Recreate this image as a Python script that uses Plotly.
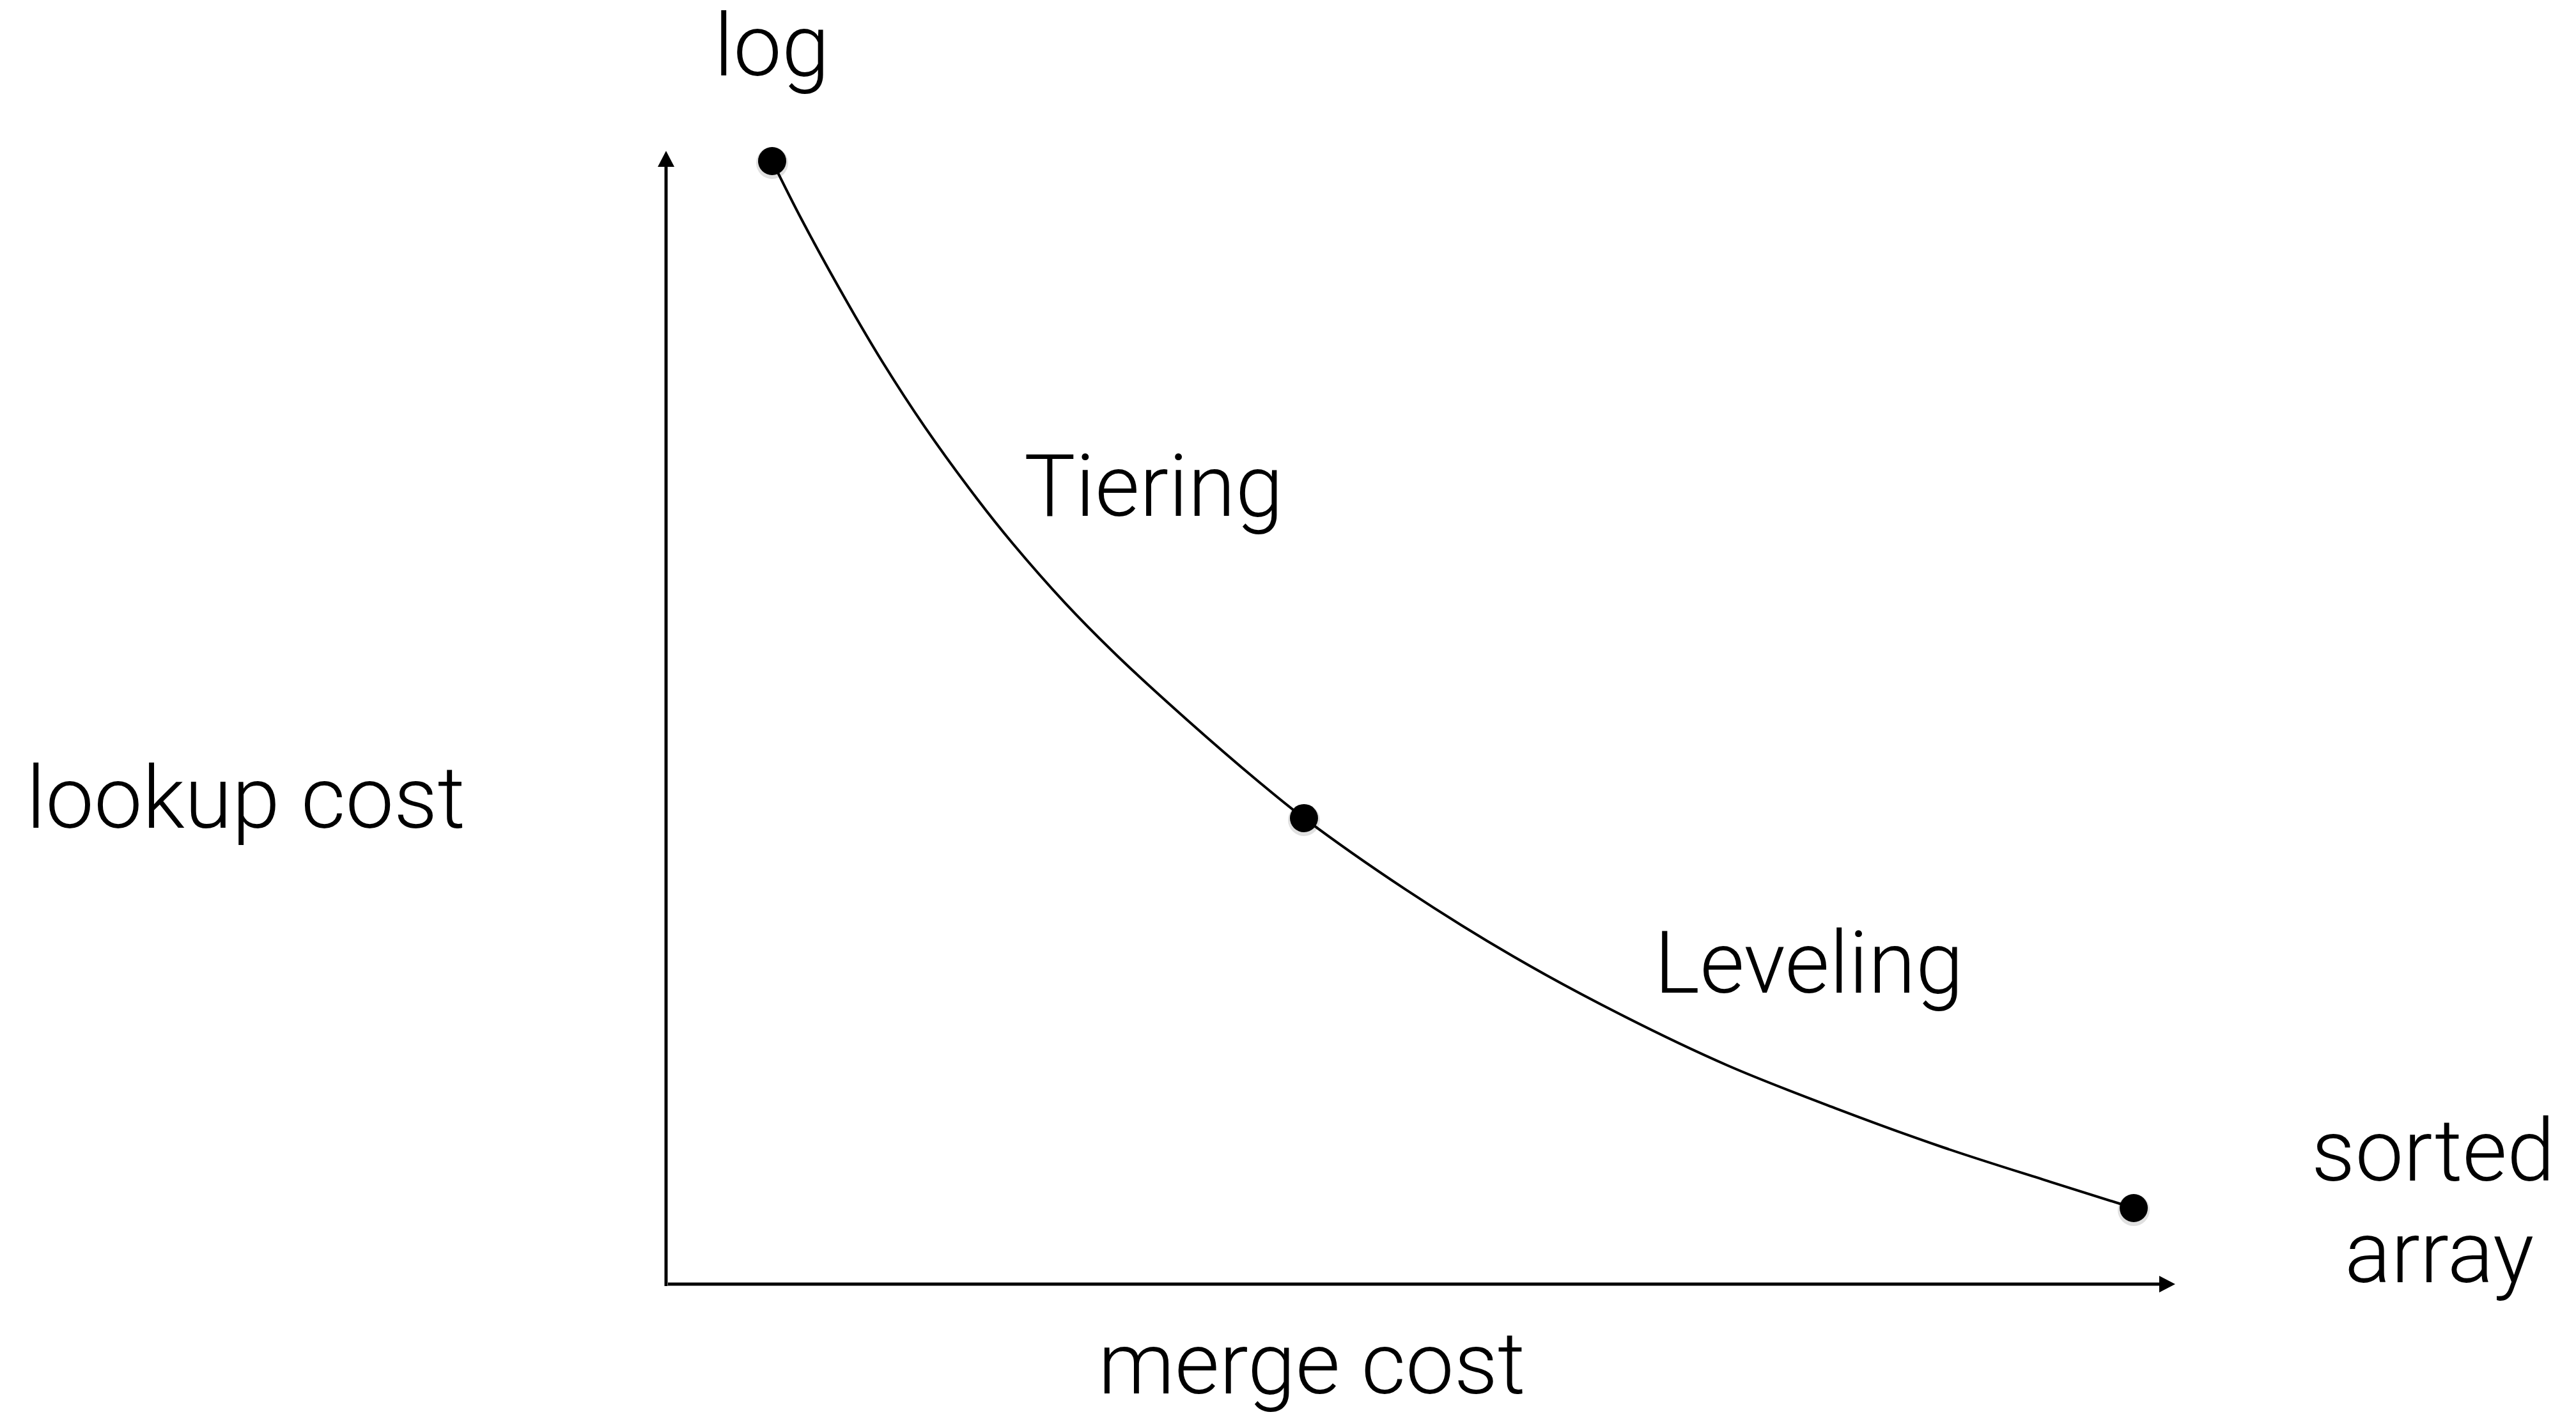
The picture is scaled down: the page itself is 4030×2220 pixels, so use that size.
import plotly.graph_objects as go

# Design-space trade-off curve: merge cost (x) vs lookup cost (y), arbitrary units
curve_merge = [7.03, 9.02, 12.03, 14.36, 17.15, 20.63, 22.96, 26.43, 29.94, 34.56,
               39.22, 42.27, 48.96, 56.12, 63.24, 70.35, 77.51, 84.62, 91.74, 97.25]
curve_lookup = [99.10, 93.85, 86.58, 81.33, 75.63, 69.26, 65.37, 60.12, 55.39, 49.75,
                44.39, 41.12, 34.86, 28.93, 23.80, 19.29, 15.51, 12.07, 9.02, 6.71]

# Named design points on the curve
point_names = ["log", "middle", "sorted array"]
point_merge = [7.03, 42.27, 97.25]
point_lookup = [99.10, 41.12, 6.71]

# Canvas geometry: origin of the drawn axes and pixels per unit
W, H = 4030, 2220
ORIGIN_X, ORIGIN_Y = 1042, 2009
PX_X, PX_Y = 23.61, 17.73

x_range = [-ORIGIN_X / PX_X, (W - ORIGIN_X) / PX_X]
y_range = [-(H - ORIGIN_Y) / PX_Y, ORIGIN_Y / PX_Y]

FONT = dict(family="Roboto, 'Helvetica Neue', Arial, sans-serif", size=135,
            color="black", weight=300)

fig = go.Figure()

# Curve
fig.add_trace(go.Scatter(
    x=curve_merge, y=curve_lookup, mode="lines",
    line=dict(color="black", width=4, shape="spline", smoothing=1.0),
    hoverinfo="skip",
))

# Soft drop shadow under the dots
shadow_dy = 3 / PX_Y
fig.add_trace(go.Scatter(
    x=point_merge, y=[v - shadow_dy for v in point_lookup], mode="markers",
    marker=dict(size=50, color="rgba(0,0,0,0.12)", line=dict(width=0)),
    hoverinfo="skip",
))

# Dots
fig.add_trace(go.Scatter(
    x=point_merge, y=point_lookup, mode="markers", text=point_names,
    marker=dict(size=44, color="black", line=dict(width=0)),
    hoverinfo="text",
))

# Hand-drawn axes with arrowheads
ax_w = 5
y_tip, y_base = 100.0, 100.0 - 25 / PX_Y
x_tip, x_base = 100.0, 100.0 - 25 / PX_X
half_w_x = 13 / PX_X
half_w_y = 13 / PX_Y
shapes = [
    dict(type="line", x0=0, y0=-3 / PX_Y, x1=0, y1=y_base + 0.2,
         line=dict(color="black", width=ax_w)),
    dict(type="path",
         path=f"M {-half_w_x},{y_base} L {half_w_x},{y_base} L 0,{y_tip} Z",
         fillcolor="black", line=dict(color="black", width=0)),
    dict(type="line", x0=3 / PX_X, y0=0, x1=x_base + 0.2, y1=0,
         line=dict(color="black", width=ax_w)),
    dict(type="path",
         path=f"M {x_base},{-half_w_y} L {x_base},{half_w_y} L {x_tip},0 Z",
         fillcolor="black", line=dict(color="black", width=0)),
]

# Text labels
labels = [
    ("log", 7.0, 109.25),
    ("lookup cost", -27.83, 42.87),
    ("merge cost", 42.82, -7.05),
    ("Tiering", 32.3, 70.39),
    ("Leveling", 75.73, 28.31),
    ("sorted", 117.1, 11.73),
    ("array", 117.5, 2.76),
]
annotations = [
    dict(text=t, x=x, y=y, xref="x", yref="y", showarrow=False,
         xanchor="center", yanchor="middle", font=FONT)
    for t, x, y in labels
]

fig.update_layout(
    width=W, height=H,
    margin=dict(l=0, r=0, t=0, b=0),
    paper_bgcolor="white", plot_bgcolor="white",
    showlegend=False,
    xaxis=dict(range=x_range, visible=False, fixedrange=True),
    yaxis=dict(range=y_range, visible=False, fixedrange=True),
    shapes=shapes,
    annotations=annotations,
)

fig.write_html("out.html")
